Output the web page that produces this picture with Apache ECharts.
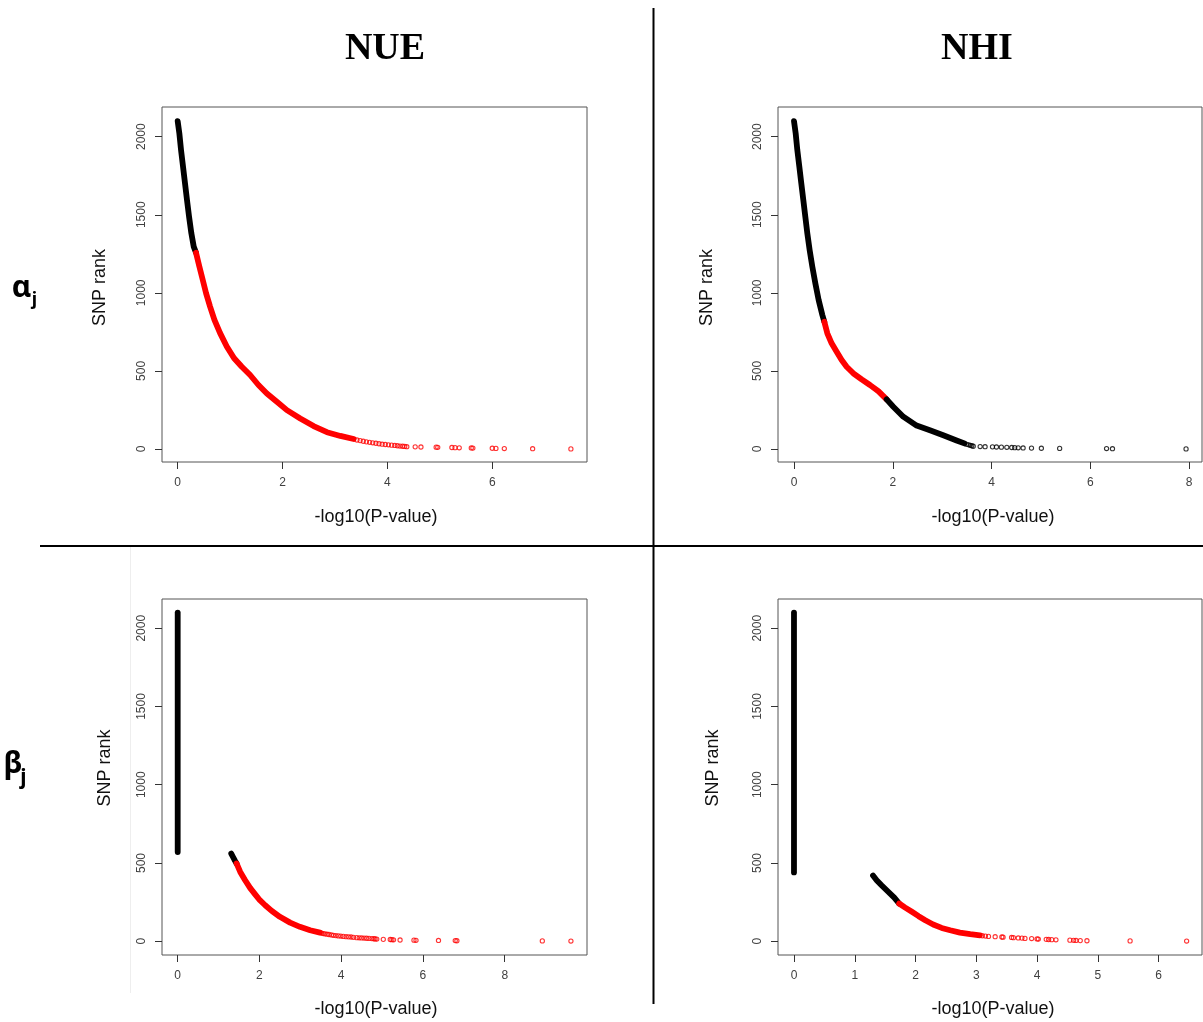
<!DOCTYPE html>
<html>
<head>
<meta charset="utf-8">
<script src="https://cdn.jsdelivr.net/npm/echarts@6/dist/echarts.min.js"></script>
<style>html,body{margin:0;padding:0;background:#fff}#c{width:1203px;height:1022px}</style>
</head>
<body>
<div id="c"></div>
<script>
// ---------- text ----------
const COL_TITLES = ['NUE', 'NHI'];
const X_TITLE = '-log10(P-value)';
const Y_TITLE = 'SNP rank';

// ---------- tick values ----------
const Y_TICKS = [0, 500, 1000, 1500, 2000];
const X_TICKS_NUE_A = [0, 2, 4, 6];
const X_TICKS_NHI_A = [0, 2, 4, 6, 8];
const X_TICKS_NUE_B = [0, 2, 4, 6, 8];
const X_TICKS_NHI_B = [0, 1, 2, 3, 4, 5, 6];

// ---------- data: [-log10(P), SNP rank] ----------
// NUE, alpha_j
const NUE_ALPHA_BLACK = [[0,2100],[0.032,2021],[0.064,1915],[0.102,1808],[0.14,1701],[0.178,1594],[0.217,1488],[0.261,1381],[0.306,1296],[0.35,1257]];
const NUE_ALPHA_RED = [[0.35,1257],[0.414,1168],[0.478,1083],[0.541,998],[0.618,912],[0.701,827],[0.809,742],[0.936,657],[1.076,581],[1.223,527],[1.382,474],[1.541,410],[1.701,356],[1.892,303],[2.083,249],[2.338,196],[2.592,147],[2.847,108],[3.102,84],[3.357,64]];
const NUE_ALPHA_RED_TAIL = [[3.42,58],[3.48,54],[3.54,50],[3.6,46],[3.66,43],[3.72,40],[3.78,37],[3.84,34],[3.9,31],[3.96,29],[4.02,27],[4.08,25],[4.14,23],[4.19,21],[4.24,19],[4.29,18],[4.33,17],[4.37,15],[4.53,14],[4.64,13],[4.93,12],[4.96,11],[5.23,10],[5.29,9],[5.37,8],[5.6,7],[5.63,6],[6.0,5],[6.07,4],[6.23,3],[6.77,2],[7.5,1]];

// NHI, alpha_j
const NHI_ALPHA_BLACK_1 = [[0,2100],[0.034,2021],[0.067,1915],[0.108,1808],[0.148,1701],[0.189,1594],[0.229,1488],[0.27,1381],[0.317,1274],[0.371,1168],[0.432,1061],[0.499,954],[0.574,858],[0.614,815]];
const NHI_ALPHA_RED = [[0.614,815],[0.675,741],[0.762,677],[0.864,623],[0.965,570],[1.066,527],[1.201,485],[1.37,446],[1.538,410],[1.707,371],[1.876,318]];
const NHI_ALPHA_BLACK_2 = [[1.876,318],[2.011,271],[2.213,207],[2.483,150],[2.753,120],[3.023,88],[3.293,55],[3.45,36]];
const NHI_ALPHA_BLACK_TAIL = [[3.5,30],[3.54,27],[3.57,24],[3.6,21],[3.63,18],[3.77,16],[3.87,15],[4.02,14],[4.1,13],[4.2,12],[4.31,11],[4.41,10],[4.47,9],[4.54,8],[4.64,7],[4.81,6],[5.01,5],[5.38,4],[6.33,3],[6.45,2],[7.94,1]];

// NUE, beta_j
const NUE_BETA_ZERO = [[0,2100],[0,570]];
const NUE_BETA_BLACK = [[1.31,560],[1.35,540],[1.4,515],[1.44,497]];
const NUE_BETA_RED = [[1.44,497],[1.53,443],[1.65,390],[1.77,341],[1.89,301],[2.01,262],[2.14,230],[2.3,194],[2.5,156],[2.75,119],[2.99,92],[3.24,70],[3.48,55]];
const NUE_BETA_RED_TAIL = [[3.52,52],[3.56,49],[3.6,47],[3.65,45],[3.7,43],[3.76,40],[3.81,38],[3.87,36],[3.93,34],[3.99,33],[4.05,31],[4.12,29],[4.18,28],[4.24,27],[4.3,25],[4.38,23],[4.44,22],[4.5,21],[4.56,20],[4.62,19],[4.68,18],[4.75,17],[4.8,16],[4.83,15],[4.87,14],[5.03,12],[5.2,11],[5.24,10],[5.28,9],[5.44,8],[5.78,7],[5.83,6],[6.38,5],[6.79,4],[6.83,3],[8.92,2],[9.62,1]];

// NHI, beta_j
const NHI_BETA_ZERO = [[0,2100],[0,440]];
const NHI_BETA_BLACK = [[1.3,420],[1.36,390],[1.44,358],[1.55,316],[1.65,279],[1.73,241]];
const NHI_BETA_RED = [[1.73,241],[1.83,215],[1.94,188],[2.05,160],[2.16,134],[2.29,107],[2.43,85],[2.57,70],[2.73,55],[2.9,45],[3.06,38]];
const NHI_BETA_RED_TAIL = [[3.1,35],[3.15,33],[3.2,31],[3.31,29],[3.42,27],[3.44,26],[3.58,24],[3.61,23],[3.69,21],[3.75,20],[3.8,18],[3.91,17],[4.0,15],[4.02,14],[4.15,12],[4.19,11],[4.24,10],[4.31,9],[4.54,7],[4.6,6],[4.64,5],[4.71,4],[4.82,3],[5.53,2],[6.46,1]];

// ---------- layout ----------
const BLACK = '#000000', RED = '#ff0000';
const panels = [
  { grid: {left:162, top:107, width:425, height:355}, xMin:-0.299, xMax:7.807, xTicks:X_TICKS_NUE_A, yMin:-83, yMax:2190,
    lines:[[NUE_ALPHA_BLACK,BLACK],[NUE_ALPHA_RED,RED]], pts:[[NUE_ALPHA_RED_TAIL,RED]],
    xt:[376,516.7], yt:[100,287.5] },
  { grid: {left:778, top:107, width:424, height:355}, xMin:-0.324, xMax:8.263, xTicks:X_TICKS_NHI_A, yMin:-83, yMax:2190,
    lines:[[NHI_ALPHA_BLACK_1,BLACK],[NHI_ALPHA_RED,RED],[NHI_ALPHA_BLACK_2,BLACK]], pts:[[NHI_ALPHA_BLACK_TAIL,BLACK]],
    xt:[993,516.7], yt:[706.7,287.5] },
  { grid: {left:162, top:599, width:425, height:356}, xMin:-0.384, xMax:10.013, xTicks:X_TICKS_NUE_B, yMin:-88, yMax:2187,
    lines:[[NUE_BETA_ZERO,BLACK],[NUE_BETA_BLACK,BLACK],[NUE_BETA_RED,RED]], pts:[[NUE_BETA_RED_TAIL,RED]],
    xt:[376,1009.3], yt:[105,768] },
  { grid: {left:778, top:599, width:424, height:356}, xMin:-0.263, xMax:6.713, xTicks:X_TICKS_NHI_B, yMin:-88, yMax:2187,
    lines:[[NHI_BETA_ZERO,BLACK],[NHI_BETA_BLACK,BLACK],[NHI_BETA_RED,RED]], pts:[[NHI_BETA_RED_TAIL,RED]],
    xt:[993,1009.3], yt:[712.7,768] }
];

const AX_COLOR = '#555555', LAB_COLOR = '#404040';
const plain = v => String(v);
const grid = [], xAxis = [], yAxis = [], series = [], graphic = [];

panels.forEach((p, i) => {
  grid.push(Object.assign({ show:true, borderColor:AX_COLOR, borderWidth:1, backgroundColor:'transparent', containLabel:false }, p.grid));
  xAxis.push({
    type:'value', gridIndex:i, min:p.xMin, max:p.xMax, position:'bottom',
    axisLine:{show:false, onZero:false}, splitLine:{show:false},
    axisTick:{show:true, inside:false, length:7, lineStyle:{color:'#333333', width:1}, customValues:p.xTicks},
    axisLabel:{show:true, customValues:p.xTicks, formatter:plain, margin:15, color:LAB_COLOR, fontSize:12, fontFamily:'Liberation Sans, Arial, sans-serif'}
  });
  yAxis.push({
    type:'value', gridIndex:i, min:p.yMin, max:p.yMax, position:'left',
    axisLine:{show:false, onZero:false}, splitLine:{show:false},
    axisTick:{show:true, inside:false, length:7, lineStyle:{color:'#333333', width:1}, customValues:Y_TICKS},
    axisLabel:{show:true, customValues:Y_TICKS, formatter:plain, rotate:90, margin:14, color:LAB_COLOR, fontSize:12, fontFamily:'Liberation Sans, Arial, sans-serif'}
  });
  p.lines.forEach(([d, c]) => {
    series.push({ type:'line', xAxisIndex:i, yAxisIndex:i, data:d, symbol:'none', showSymbol:false, smooth:false,
      lineStyle:{color:c, width:5.8, cap:'round', join:'round'}, silent:true, animation:false, z:2 });
  });
  p.pts.forEach(([d, c]) => {
    series.push({ type:'scatter', xAxisIndex:i, yAxisIndex:i, data:d, symbol:'circle', symbolSize:4.2,
      itemStyle:{color:'rgba(255,255,255,0)', borderColor:c, borderWidth:1.1}, silent:true, animation:false, z:3 });
  });
  graphic.push({ type:'text', x:p.xt[0], y:p.xt[1], silent:true,
    style:{ text:X_TITLE, fill:'#111', font:'18px "Liberation Sans", Arial, sans-serif',
      align:'center', verticalAlign:'middle', textAlign:'center', textVerticalAlign:'middle' } });
  graphic.push({ type:'text', x:p.yt[0], y:p.yt[1], rotation:Math.PI/2, silent:true,
    style:{ text:Y_TITLE, fill:'#111', font:'18px "Liberation Sans", Arial, sans-serif',
      align:'center', verticalAlign:'middle', textAlign:'center', textVerticalAlign:'middle' } });
});

// column titles
[[COL_TITLES[0], 385], [COL_TITLES[1], 977]].forEach(([t, x]) => {
  graphic.push({ type:'text', x:x, y:49, silent:true,
    style:{ text:t, fill:'#000', font:'bold 38px "Liberation Serif", "Times New Roman", serif',
      align:'center', verticalAlign:'middle', textAlign:'center', textVerticalAlign:'middle' } });
});
// row labels (Greek letter with subscript j)
const greek = [['α', 21.7, 288, 30, 'j', 34.5, 300, 18], ['β', 13, 764, 30, 'j', 23.5, 778, 21]];
greek.forEach(([g, gx, gy, gs, s, sx, sy, ss]) => {
  graphic.push({ type:'text', x:gx, y:gy, silent:true,
    style:{ text:g, fill:'#000', font:'bold ' + gs + 'px "Noto Sans", "DejaVu Sans", sans-serif',
      align:'center', verticalAlign:'middle', textAlign:'center', textVerticalAlign:'middle' } });
  graphic.push({ type:'text', x:sx, y:sy, silent:true,
    style:{ text:s, fill:'#000', font:'bold ' + ss + 'px "Noto Sans", "DejaVu Sans", sans-serif',
      align:'center', verticalAlign:'middle', textAlign:'center', textVerticalAlign:'middle' } });
});
// dividers
graphic.push({ type:'line', silent:true, shape:{x1:130.5, y1:547, x2:130.5, y2:993}, style:{stroke:'#eeeeee', lineWidth:1} });
graphic.push({ type:'line', silent:true, shape:{x1:653.5, y1:8, x2:653.5, y2:1004}, style:{stroke:'#000', lineWidth:2} });
graphic.push({ type:'line', silent:true, shape:{x1:40, y1:546, x2:1203, y2:546}, style:{stroke:'#000', lineWidth:2} });

const chart = echarts.init(document.getElementById('c'), null, { renderer:'canvas' });
chart.setOption({ backgroundColor:'#ffffff', animation:false, grid, xAxis, yAxis, series, graphic });
</script>
</body>
</html>
